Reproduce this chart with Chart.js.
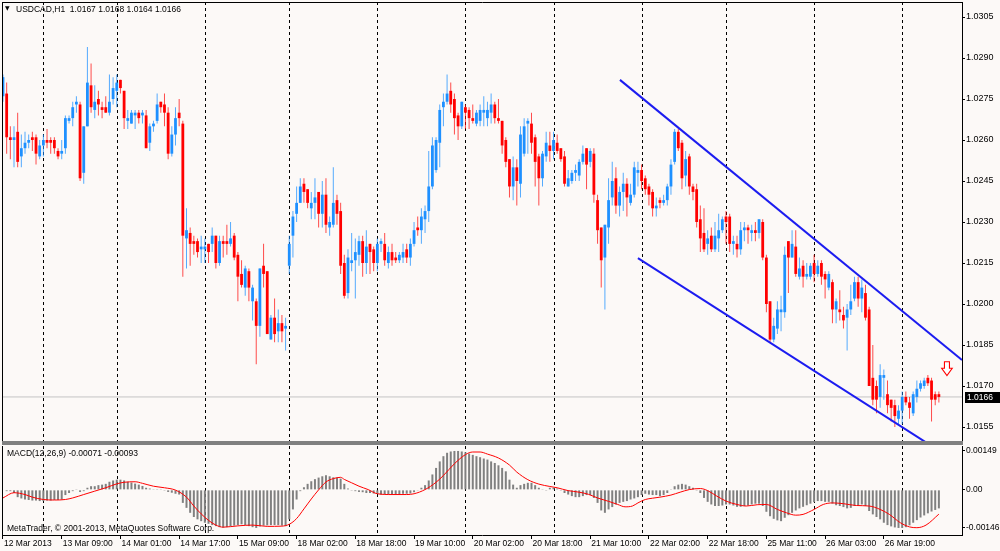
<!DOCTYPE html>
<html><head><meta charset="utf-8">
<script src="https://cdn.jsdelivr.net/npm/chart.js@4/dist/chart.umd.min.js"></script>
<style>
html,body{margin:0;padding:0;background:#fcf9f7;}
#wrap{position:relative;width:1000px;height:551px;overflow:hidden;background:#fcf9f7;font-family:"Liberation Sans",Arial,sans-serif;}
canvas{position:absolute;left:0;}
#price{top:0;}
#macd{top:445px;}
#sep{position:absolute;left:2px;top:441px;width:961px;height:4px;background:#808080;}
.lbl{position:absolute;font-size:8.5px;color:#000;white-space:pre;line-height:1;}
#tri{position:absolute;left:5px;top:5px;font-size:6px;line-height:1;font-family:"DejaVu Sans";color:#000;}
</style></head>
<body><div id="wrap">
<canvas id="price" width="1000" height="441"></canvas>
<div id="sep"></div>
<canvas id="macd" width="1000" height="106"></canvas>
<div id="tri">▼</div>
<div class="lbl" id="title" style="left:16px;top:4.5px;"></div>
<div class="lbl" id="macdTitle" style="left:7px;top:449px;"></div>
<div class="lbl" id="copy" style="left:7px;top:524px;">MetaTrader, © 2001-2013, MetaQuotes Software Corp.</div>
</div>
<script>
// ---------------- DATA ----------------
const SYMBOL = 'USDCAD,H1';
const OPEN = [
1.0276,1.0277,1.0261,1.0260,1.0263,1.0254,1.0257,1.0259,1.0261,1.0261,1.0254,1.0258,1.0260,1.0260,1.0260,1.0256,
1.0255,1.0257,1.0267,1.0268,1.0273,1.0273,1.0248,1.0265,1.0280,1.0271,1.0275,1.0272,1.0272,1.0270,1.0275,1.0278,
1.0282,1.0278,1.0267,1.0266,1.0269,1.0270,1.0269,1.0269,1.0259,1.0265,1.0267,1.0274,1.0273,1.0270,1.0255,1.0262,
1.0270,1.0266,1.0224,1.0226,1.0223,1.0223,1.0220,1.0220,1.0222,1.0222,1.0225,1.0215,1.0223,1.0223,1.0222,1.0225,
1.0218,1.0211,1.0206,1.0212,1.0201,1.0201,1.0192,1.0214,1.0212,1.0187,1.0195,1.0190,1.0193,1.0191,1.0214,1.0225,
1.0233,1.0237,1.0244,1.0242,1.0235,1.0237,1.0241,1.0233,1.0240,1.0228,1.0229,1.0238,1.0234,1.0215,1.0204,1.0215,
1.0216,1.0218,1.0223,1.0215,1.0222,1.0220,1.0215,1.0222,1.0222,1.0215,1.0219,1.0217,1.0216,1.0217,1.0220,1.0217,
1.0222,1.0228,1.0227,1.0231,1.0234,1.0243,1.0249,1.0259,1.0272,1.0274,1.0278,1.0275,1.0269,1.0265,1.0272,1.0271,
1.0268,1.0266,1.0267,1.0270,1.0268,1.0270,1.0273,1.0268,1.0267,1.0260,1.0253,1.0243,1.0250,1.0244,1.0255,1.0266,
1.0266,1.0261,1.0254,1.0246,1.0254,1.0258,1.0256,1.0259,1.0257,1.0254,1.0243,1.0245,1.0248,1.0247,1.0252,1.0257,
1.0252,1.0255,1.0238,1.0228,1.0217,1.0228,1.0239,1.0246,1.0236,1.0241,1.0244,1.0237,1.0240,1.0248,1.0249,1.0246,
1.0243,1.0241,1.0235,1.0238,1.0237,1.0238,1.0243,1.0252,1.0263,1.0259,1.0247,1.0254,1.0243,1.0242,1.0231,1.0226,
1.0222,1.0225,1.0220,1.0224,1.0227,1.0232,1.0232,1.0222,1.0222,1.0220,1.0227,1.0228,1.0226,1.0227,1.0226,1.0230,
1.0217,1.0201,1.0187,1.0191,1.0197,1.0197,1.0223,1.0217,1.0221,1.0210,1.0214,1.0210,1.0210,1.0215,1.0211,1.0215,
1.0211,1.0206,1.0208,1.0198,1.0198,1.0196,1.0195,1.0198,1.0202,1.0208,1.0202,1.0204,1.0198,1.0173,1.0170,1.0166,
1.0173,1.0167,1.0165,1.0163,1.0158,1.0161,1.0166,1.0164,1.0160,1.0166,1.0169,1.0170,1.0173,1.0172,1.0167,1.0167];
const HIGH = [
1.0284,1.0281,1.0265,1.0265,1.0270,1.0262,1.0263,1.0262,1.0263,1.0262,1.0260,1.0262,1.0264,1.0261,1.0261,1.0257,
1.0260,1.0269,1.0269,1.0274,1.0276,1.0274,1.0265,1.0294,1.0288,1.0280,1.0278,1.0274,1.0276,1.0284,1.0283,1.0284,
1.0282,1.0278,1.0271,1.0271,1.0271,1.0271,1.0271,1.0271,1.0266,1.0267,1.0277,1.0274,1.0277,1.0272,1.0265,1.0272,
1.0275,1.0267,1.0235,1.0228,1.0225,1.0224,1.0225,1.0224,1.0222,1.0228,1.0225,1.0225,1.0225,1.0229,1.0230,1.0226,
1.0219,1.0216,1.0214,1.0213,1.0207,1.0202,1.0213,1.0222,1.0212,1.0196,1.0202,1.0198,1.0196,1.0195,1.0225,1.0234,
1.0243,1.0246,1.0246,1.0242,1.0241,1.0246,1.0241,1.0245,1.0246,1.0232,1.0250,1.0240,1.0237,1.0218,1.0220,1.0226,
1.0224,1.0225,1.0225,1.0227,1.0222,1.0221,1.0224,1.0224,1.0226,1.0221,1.0222,1.0219,1.0219,1.0222,1.0222,1.0224,
1.0230,1.0232,1.0235,1.0236,1.0256,1.0261,1.0261,1.0273,1.0277,1.0284,1.0281,1.0277,1.0270,1.0274,1.0273,1.0272,
1.0273,1.0271,1.0273,1.0276,1.0274,1.0277,1.0274,1.0275,1.0267,1.0261,1.0253,1.0254,1.0253,1.0265,1.0268,1.0268,
1.0270,1.0262,1.0255,1.0256,1.0263,1.0263,1.0263,1.0262,1.0257,1.0256,1.0249,1.0249,1.0251,1.0253,1.0258,1.0257,
1.0257,1.0257,1.0240,1.0228,1.0229,1.0246,1.0252,1.0250,1.0243,1.0248,1.0246,1.0244,1.0252,1.0252,1.0251,1.0247,
1.0244,1.0242,1.0239,1.0239,1.0240,1.0244,1.0253,1.0264,1.0264,1.0260,1.0256,1.0255,1.0244,1.0244,1.0236,1.0235,
1.0227,1.0228,1.0230,1.0233,1.0232,1.0234,1.0233,1.0225,1.0225,1.0230,1.0230,1.0229,1.0229,1.0230,1.0231,1.0231,
1.0218,1.0201,1.0195,1.0201,1.0203,1.0221,1.0223,1.0227,1.0227,1.0217,1.0216,1.0215,1.0215,1.0218,1.0216,1.0216,
1.0212,1.0212,1.0209,1.0202,1.0205,1.0199,1.0200,1.0207,1.0210,1.0210,1.0209,1.0207,1.0199,1.0185,1.0172,1.0178,
1.0176,1.0172,1.0165,1.0165,1.0163,1.0168,1.0168,1.0166,1.0168,1.0172,1.0172,1.0173,1.0174,1.0173,1.0168,1.0168];
const LOW = [
1.0274,1.0255,1.0253,1.0250,1.0250,1.0250,1.0255,1.0257,1.0256,1.0251,1.0253,1.0254,1.0257,1.0255,1.0255,1.0253,
1.0253,1.0255,1.0266,1.0265,1.0270,1.0245,1.0244,1.0265,1.0270,1.0268,1.0269,1.0268,1.0270,1.0269,1.0273,1.0272,
1.0277,1.0264,1.0264,1.0266,1.0264,1.0266,1.0266,1.0257,1.0256,1.0263,1.0266,1.0270,1.0265,1.0253,1.0254,1.0258,
1.0265,1.0210,1.0213,1.0214,1.0218,1.0217,1.0215,1.0215,1.0215,1.0219,1.0213,1.0214,1.0217,1.0218,1.0221,1.0216,
1.0201,1.0206,1.0203,1.0201,1.0194,1.0178,1.0188,1.0206,1.0189,1.0187,1.0186,1.0186,1.0186,1.0183,1.0211,1.0217,
1.0230,1.0237,1.0237,1.0235,1.0231,1.0231,1.0228,1.0228,1.0226,1.0225,1.0228,1.0229,1.0211,1.0202,1.0202,1.0212,
1.0202,1.0214,1.0210,1.0211,1.0211,1.0212,1.0212,1.0219,1.0214,1.0213,1.0214,1.0215,1.0215,1.0215,1.0215,1.0214,
1.0221,1.0225,1.0222,1.0226,1.0230,1.0242,1.0248,1.0250,1.0265,1.0273,1.0270,1.0262,1.0260,1.0264,1.0264,1.0264,
1.0266,1.0265,1.0265,1.0265,1.0265,1.0266,1.0266,1.0266,1.0255,1.0250,1.0239,1.0238,1.0236,1.0239,1.0254,1.0255,
1.0255,1.0243,1.0236,1.0243,1.0252,1.0252,1.0253,1.0255,1.0252,1.0243,1.0243,1.0244,1.0245,1.0245,1.0251,1.0242,
1.0250,1.0237,1.0222,1.0206,1.0198,1.0222,1.0236,1.0233,1.0232,1.0234,1.0232,1.0236,1.0239,1.0243,1.0242,1.0240,
1.0236,1.0232,1.0232,1.0235,1.0236,1.0236,1.0240,1.0251,1.0256,1.0242,1.0243,1.0240,1.0238,1.0228,1.0219,1.0219,
1.0218,1.0219,1.0219,1.0219,1.0226,1.0222,1.0219,1.0218,1.0217,1.0218,1.0223,1.0222,1.0223,1.0223,1.0224,1.0216,
1.0197,1.0186,1.0186,1.0189,1.0190,1.0195,1.0204,1.0217,1.0210,1.0209,1.0206,1.0209,1.0209,1.0208,1.0210,1.0207,
1.0202,1.0205,1.0193,1.0193,1.0194,1.0191,1.0183,1.0196,1.0201,1.0199,1.0197,1.0194,1.0170,1.0163,1.0160,1.0162,
1.0165,1.0160,1.0157,1.0155,1.0156,1.0156,1.0163,1.0158,1.0159,1.0164,1.0168,1.0169,1.0170,1.0157,1.0163,1.0164];
const CLOSE = [
1.0283,1.0261,1.0260,1.0261,1.0252,1.0257,1.0259,1.0260,1.0260,1.0255,1.0258,1.0260,1.0259,1.0259,1.0257,1.0254,
1.0256,1.0268,1.0268,1.0272,1.0274,1.0246,1.0265,1.0281,1.0272,1.0274,1.0273,1.0271,1.0270,1.0274,1.0279,1.0281,
1.0279,1.0268,1.0268,1.0270,1.0270,1.0268,1.0270,1.0257,1.0265,1.0266,1.0273,1.0272,1.0270,1.0255,1.0262,1.0268,
1.0268,1.0225,1.0227,1.0222,1.0222,1.0219,1.0221,1.0221,1.0219,1.0225,1.0215,1.0223,1.0222,1.0222,1.0224,1.0217,
1.0210,1.0207,1.0213,1.0206,1.0206,1.0192,1.0213,1.0211,1.0189,1.0195,1.0189,1.0193,1.0190,1.0192,1.0222,1.0232,
1.0237,1.0243,1.0241,1.0237,1.0237,1.0239,1.0233,1.0240,1.0229,1.0230,1.0237,1.0233,1.0214,1.0203,1.0217,1.0216,
1.0219,1.0223,1.0215,1.0221,1.0219,1.0215,1.0222,1.0223,1.0216,1.0219,1.0216,1.0216,1.0218,1.0219,1.0217,1.0222,
1.0227,1.0227,1.0232,1.0234,1.0243,1.0258,1.0260,1.0271,1.0274,1.0277,1.0273,1.0268,1.0265,1.0274,1.0270,1.0268,
1.0267,1.0270,1.0271,1.0271,1.0271,1.0273,1.0268,1.0267,1.0258,1.0252,1.0243,1.0250,1.0245,1.0262,1.0265,1.0267,
1.0259,1.0252,1.0246,1.0255,1.0259,1.0256,1.0260,1.0256,1.0253,1.0244,1.0246,1.0248,1.0249,1.0252,1.0255,1.0251,
1.0256,1.0240,1.0227,1.0216,1.0229,1.0238,1.0245,1.0236,1.0241,1.0244,1.0239,1.0240,1.0250,1.0249,1.0245,1.0242,
1.0240,1.0235,1.0236,1.0237,1.0238,1.0243,1.0251,1.0263,1.0257,1.0246,1.0253,1.0243,1.0241,1.0230,1.0224,1.0220,
1.0224,1.0220,1.0225,1.0227,1.0231,1.0230,1.0222,1.0223,1.0220,1.0227,1.0228,1.0227,1.0227,1.0226,1.0231,1.0217,
1.0200,1.0187,1.0192,1.0198,1.0198,1.0218,1.0217,1.0222,1.0211,1.0213,1.0210,1.0211,1.0214,1.0211,1.0214,1.0210,
1.0209,1.0211,1.0198,1.0201,1.0197,1.0194,1.0198,1.0201,1.0208,1.0202,1.0206,1.0195,1.0170,1.0165,1.0165,1.0174,
1.0174,1.0163,1.0162,1.0159,1.0161,1.0166,1.0164,1.0162,1.0167,1.0169,1.0171,1.0172,1.0171,1.0165,1.0165,1.0166];

// MACD(12,26,9) main line (histogram)
const MACD_MAIN = [
-0.00002,-0.00005,-0.00005,-0.00012,-0.00028,-0.00033,-0.00037,-0.00039,-0.00041,-0.00041,-0.00043,-0.00043,-0.00041,-0.00041,-0.00039,-0.00039,
-0.00037,-0.00020,-0.00012,-0.00005,0.00001,-0.00008,-0.00005,0.00008,0.00014,0.00014,0.00018,0.00020,0.00023,0.00031,0.00036,0.00039,
0.00039,0.00036,0.00031,0.00028,0.00024,0.00020,0.00015,0.00008,0.00005,0.00001,0.00003,0.00001,-0.00003,-0.00008,-0.00011,-0.00015,
-0.00018,-0.00050,-0.00069,-0.00088,-0.00104,-0.00113,-0.00120,-0.00126,-0.00130,-0.00135,-0.00139,-0.00143,-0.00145,-0.00143,-0.00140,-0.00137,
-0.00135,-0.00132,-0.00135,-0.00139,-0.00143,-0.00146,-0.00140,-0.00137,-0.00136,-0.00135,-0.00135,-0.00135,-0.00137,-0.00139,-0.00113,-0.00075,
-0.00037,-0.00005,0.00010,0.00023,0.00033,0.00041,0.00047,0.00052,0.00056,0.00052,0.00048,0.00046,0.00043,0.00023,0.00005,-0.00003,
-0.00005,-0.00008,-0.00009,-0.00012,-0.00012,-0.00014,-0.00015,-0.00018,-0.00018,-0.00018,-0.00018,-0.00018,-0.00018,-0.00015,-0.00015,-0.00014,
-0.00009,-0.00001,0.00008,0.00018,0.00036,0.00059,0.00084,0.00109,0.00129,0.00142,0.00147,0.00149,0.00149,0.00147,0.00144,0.00139,
0.00134,0.00129,0.00125,0.00120,0.00116,0.00109,0.00103,0.00094,0.00084,0.00071,0.00039,0.00020,0.00008,0.00018,0.00023,0.00027,
0.00027,0.00018,0.00008,0.00001,-0.00003,0.00008,0.00008,0.00005,-0.00003,-0.00012,-0.00018,-0.00024,-0.00028,-0.00028,-0.00024,-0.00020,
-0.00020,-0.00031,-0.00050,-0.00079,-0.00088,-0.00075,-0.00066,-0.00056,-0.00050,-0.00046,-0.00043,-0.00037,-0.00033,-0.00028,-0.00020,-0.00015,
-0.00018,-0.00020,-0.00020,-0.00024,-0.00020,-0.00012,0.00001,0.00014,0.00020,0.00023,0.00020,0.00014,0.00008,-0.00003,-0.00012,-0.00031,
-0.00046,-0.00056,-0.00062,-0.00062,-0.00060,-0.00056,-0.00056,-0.00060,-0.00065,-0.00065,-0.00062,-0.00060,-0.00056,-0.00053,-0.00053,-0.00062,
-0.00084,-0.00101,-0.00111,-0.00117,-0.00120,-0.00107,-0.00097,-0.00088,-0.00079,-0.00071,-0.00065,-0.00059,-0.00053,-0.00047,-0.00043,-0.00043,
-0.00046,-0.00046,-0.00053,-0.00059,-0.00062,-0.00066,-0.00071,-0.00069,-0.00062,-0.00060,-0.00056,-0.00062,-0.00081,-0.00094,-0.00104,-0.00113,
-0.00126,-0.00135,-0.00140,-0.00144,-0.00146,-0.00146,-0.00143,-0.00136,-0.00126,-0.00116,-0.00106,-0.00098,-0.00090,-0.00083,-0.00077,-0.00071];

// MACD signal line, read at these bar positions
const SIGNAL_AT = [0,3,6,8,11,14,17,19,22,25,28,31,33,36,38,41,44,47,50,52,54,56,58,60,64,68,72,76,78,80,
82,84,86,88,90,92,93,95,97,99.5,102,106,110,112,115,118,120,123,126,128,130,132,135,138,140,143,146,149,151,154,
157,159.5,162,165,167.5,169.5,171.5,173,175,177,179,182,184.5,187,190,192,194.5,197,200,202.5,205.5,208,211,213.5,216,218,221,223.5,226,229,
232.5,236,239,241.5,244.5,247,249,251.5,255];
const SIGNAL = [-0.00031,-0.00011,-0.00018,-0.00028,-0.00037,-0.00039,-0.00037,-0.00031,-0.00018,-0.00005,
0.00008,0.00023,0.00029,0.00031,0.00025,0.00014,0.00008,-0.00001,-0.00028,-0.00062,
-0.00092,-0.00117,-0.00135,-0.00143,-0.00138,-0.00135,-0.00140,-0.00139,-0.00132,-0.00110,
-0.00073,-0.00035,0.00000,0.00030,0.00043,0.00048,0.00040,0.00027,0.00014,0.00001,
-0.00015,-0.00018,-0.00018,-0.00015,0.00001,0.00029,0.00055,0.00100,0.00135,0.00145,
0.00145,0.00137,0.00122,0.00095,0.00068,0.00039,0.00022,0.00013,0.00008,-0.00003,
-0.00009,-0.00017,-0.00031,-0.00044,-0.00056,-0.00065,-0.00062,-0.00050,-0.00037,-0.00032,
-0.00028,-0.00020,-0.00009,0.00001,0.00005,-0.00003,-0.00024,-0.00043,-0.00056,-0.00062,
-0.00057,-0.00056,-0.00075,-0.00088,-0.00097,-0.00094,-0.00075,-0.00056,-0.00050,-0.00053,
-0.00060,-0.00062,-0.00075,-0.00094,-0.00126,-0.00142,-0.00145,-0.00135,-0.00093];

// Axis ticks
const X_TICK_AT = [0,16,32,48,64,80,96,112,128,144,160,176,192,208,224,240];
const X_LABELS = ['12 Mar 2013','13 Mar 09:00','14 Mar 01:00','14 Mar 17:00','15 Mar 09:00','18 Mar 02:00',
'18 Mar 18:00','19 Mar 10:00','20 Mar 02:00','20 Mar 18:00','21 Mar 10:00','22 Mar 02:00','22 Mar 18:00',
'25 Mar 11:00','26 Mar 03:00','26 Mar 19:00'];
const DAY_SEPARATORS = [11,31,55,78,102,126,150,174,197,221,245];
const PRICE_TICKS = [1.0305,1.0290,1.0275,1.0260,1.0245,1.0230,1.0215,1.0200,1.0185,1.0170,1.0155];
const PRICE_TICK_LABELS = ['1.0305','1.0290','1.0275','1.0260','1.0245','1.0230','1.0215','1.0200','1.0185','1.0170','1.0155'];
const MACD_TICKS = [0.00149, 0, -0.00146];
const MACD_TICK_LABELS = ['0.00149','0.00','-0.00146'];

// Drawn objects (channel lines & arrow), in bar / price coordinates
const CHANNEL_UP_AT = [168.1, 261.3];
const CHANNEL_UP_PRICE = [1.0282, 1.01795];
const CHANNEL_DN_AT = [173.0, 256.0];
const CHANNEL_DN_PRICE = [1.02168, 1.01455];
const ARROW_AT = 257.2;
const ARROW_PRICE = 1.01789;

// ---------------- CHART ----------------
const N = CLOSE.length;
const IDX = CLOSE.map((_, i) => i);
const LAST_PRICE = CLOSE[N - 1];
const X_MIN = -0.27, X_MAX = 261.3;
const FONT = '"Liberation Sans", Arial, sans-serif';
Chart.defaults.font.family = FONT;
Chart.defaults.color = '#000';

document.getElementById('title').textContent =
  SYMBOL + '  ' + [OPEN[N-1], HIGH[N-1], LOW[N-1], CLOSE[N-1]].map(v => v.toFixed(4)).join(' ');
document.getElementById('macdTitle').textContent =
  'MACD(12,26,9) ' + MACD_MAIN[N-1].toFixed(5) + ' ' + SIGNAL[SIGNAL.length-1].toFixed(5);

const bull = IDX.map(i => CLOSE[i] >= OPEN[i]);
const noPad = ax => { ax.paddingTop = 0; ax.paddingBottom = 0; ax.paddingLeft = 0; ax.paddingRight = 0; };

const sepPlugin = {
  id: 'seps',
  beforeDatasetsDraw(chart) {
    const {ctx, chartArea: a, scales: {x}} = chart;
    ctx.save();
    ctx.strokeStyle = '#000';
    ctx.lineWidth = 1;
    ctx.setLineDash([3, 3]);
    DAY_SEPARATORS.forEach(i => {
      const px = Math.round(x.getPixelForValue(i)) + 0.5;
      ctx.beginPath(); ctx.moveTo(px, a.top); ctx.lineTo(px, a.bottom); ctx.stroke();
    });
    ctx.restore();
  }
};
const framePlugin = {
  id: 'frame',
  afterDraw(chart, args, opts) {
    const {ctx, chartArea: a} = chart;
    ctx.save(); ctx.strokeStyle = '#000'; ctx.lineWidth = 1;
    ctx.beginPath();
    const l = Math.floor(a.left) + 0.5;
    ctx.moveTo(l, a.top); ctx.lineTo(l, a.bottom);
    if (opts.top) { const t = Math.floor(a.top) + 0.5; ctx.moveTo(a.left, t); ctx.lineTo(a.right + 1, t); }
    ctx.stroke(); ctx.restore();
  }
};
const markPlugin = {
  id: 'mark',
  afterDraw(chart) {
    const {ctx, chartArea: a, scales: {x, y}} = chart;
    const py = Math.round(y.getPixelForValue(LAST_PRICE));
    ctx.save();
    ctx.fillStyle = '#000';
    ctx.fillRect(a.right + 3, py - 5, chart.width - a.right - 3, 11);
    ctx.fillStyle = '#fff'; ctx.font = '8.5px ' + FONT; ctx.textBaseline = 'middle'; ctx.textAlign = 'left';
    ctx.fillText(LAST_PRICE.toFixed(4), a.right + 5, py + 0.5);
    const ax = x.getPixelForValue(ARROW_AT), ay = y.getPixelForValue(ARROW_PRICE);
    ctx.beginPath();
    ctx.moveTo(ax - 2.5, ay); ctx.lineTo(ax + 2.5, ay); ctx.lineTo(ax + 2.5, ay + 6.6);
    ctx.lineTo(ax + 5.3, ay + 6.6); ctx.lineTo(ax, ay + 14); ctx.lineTo(ax - 5.3, ay + 6.6);
    ctx.lineTo(ax - 2.5, ay + 6.6); ctx.closePath();
    ctx.fillStyle = '#fff'; ctx.fill();
    ctx.strokeStyle = '#ff0000'; ctx.lineWidth = 1.1; ctx.stroke();
    ctx.restore();
  }
};

new Chart(document.getElementById('price'), {
  type: 'bar',
  data: {
    datasets: [
      { type: 'line', data: [{x: X_MIN, y: LAST_PRICE}, {x: X_MAX, y: LAST_PRICE}],
        borderColor: '#c4c4c4', borderWidth: 1, pointRadius: 0, order: 5, clip: 0 },
      { data: IDX.map(i => ({x: i, y: [LOW[i], HIGH[i]]})),
        backgroundColor: bull.map(b => b ? 'rgba(30,144,255,0.75)' : 'rgba(255,0,0,0.7)'),
        barThickness: 1, grouped: false, inflateAmount: 0, order: 3 },
      { data: IDX.map(i => ({x: i, y: [OPEN[i], CLOSE[i]]})),
        backgroundColor: bull.map(b => b ? '#1e90ff' : '#ff0000'),
        barThickness: 2.8, grouped: false, minBarLength: 1, inflateAmount: 0, order: 2 },
      { type: 'line', data: CHANNEL_UP_AT.map((v, k) => ({x: v, y: CHANNEL_UP_PRICE[k]})),
        borderColor: '#1c1cf0', borderWidth: 2, pointRadius: 0, order: 0, clip: 0 },
      { type: 'line', data: CHANNEL_DN_AT.map((v, k) => ({x: v, y: CHANNEL_DN_PRICE[k]})),
        borderColor: '#1c1cf0', borderWidth: 2, pointRadius: 0, order: 0, clip: 0 }
    ]
  },
  options: {
    responsive: false, animation: false, devicePixelRatio: 1,
    layout: { padding: { left: 2, top: 2, right: 0, bottom: 0 } },
    plugins: { legend: { display: false }, tooltip: { enabled: false }, frame: { top: true } },
    scales: {
      x: { type: 'linear', display: false, min: X_MIN, max: X_MAX, offset: false, grid: { offset: false } },
      y: {
        position: 'right', min: 1.014988, max: 1.031049,
        afterBuildTicks: ax => { ax.ticks = PRICE_TICKS.map(v => ({value: v})); },
        afterFit: ax => { ax.width = 38; noPad(ax); },
        ticks: { callback: (v, i) => PRICE_TICK_LABELS[i], font: { size: 9 }, color: '#000', padding: 1, autoSkip: false },
        grid: { drawOnChartArea: false, tickLength: 3, color: '#000' },
        border: { color: '#000', width: 1 }
      }
    }
  },
  plugins: [sepPlugin, framePlugin, markPlugin]
});

new Chart(document.getElementById('macd'), {
  type: 'bar',
  data: {
    datasets: [
      { type: 'line', data: SIGNAL_AT.map((v, k) => ({x: v, y: SIGNAL[k]})),
        borderColor: '#ff0000', borderWidth: 1, pointRadius: 0, cubicInterpolationMode: 'monotone', order: 0 },
      { data: IDX.map(i => ({x: i, y: MACD_MAIN[i]})), backgroundColor: '#808080',
        barThickness: 2, grouped: false, inflateAmount: 0, order: 1 }
    ]
  },
  options: {
    responsive: false, animation: false, devicePixelRatio: 1,
    layout: { padding: { left: 2, top: 1, right: 0, bottom: 0 } },
    plugins: { legend: { display: false }, tooltip: { enabled: false }, frame: { top: false } },
    scales: {
      x: {
        type: 'linear', min: X_MIN, max: X_MAX, offset: false,
        afterBuildTicks: ax => { ax.ticks = X_TICK_AT.map(v => ({value: v})); },
        afterFit: ax => { ax.height = 16; noPad(ax); },
        ticks: { autoSkip: false, maxRotation: 0, minRotation: 0, align: 'start', labelOffset: 1,
                 callback: (v, i) => X_LABELS[i], font: { size: 8.5 }, color: '#000', padding: 0 },
        grid: { drawOnChartArea: false, tickLength: 4, color: '#000', offset: false },
        border: { color: '#000', width: 1 }
      },
      y: {
        position: 'right', min: -0.00173, max: 0.00168,
        afterBuildTicks: ax => { ax.ticks = MACD_TICKS.map(v => ({value: v})); },
        afterFit: ax => { ax.width = 38; noPad(ax); },
        ticks: { callback: (v, i) => MACD_TICK_LABELS[i], font: { size: 8.5 }, color: '#000', padding: 1, autoSkip: false },
        grid: { drawOnChartArea: false, tickLength: 3, color: '#000' },
        border: { color: '#000', width: 1 }
      }
    }
  },
  plugins: [sepPlugin, framePlugin]
});
</script>
</body></html>
